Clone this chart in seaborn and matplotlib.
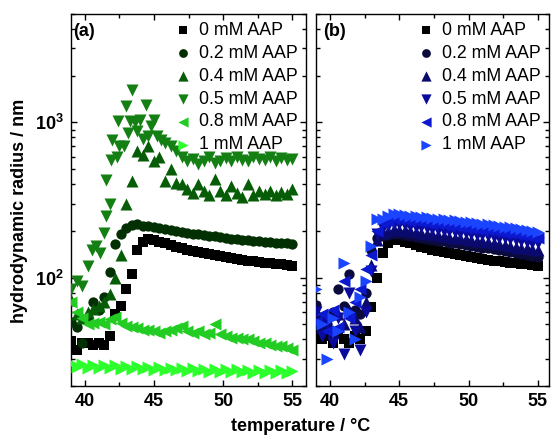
import matplotlib
matplotlib.use('Agg')
import matplotlib.pyplot as plt
import seaborn as sns
from matplotlib.ticker import LogLocator, MultipleLocator, FixedLocator, NullFormatter

# ---------------- data ----------------
labels = ['0 mM AAP', '0.2 mM AAP', '0.4 mM AAP', '0.5 mM AAP', '0.8 mM AAP', '1 mM AAP']

T = [39.0, 39.4, 39.8, 40.2, 40.6, 41.0, 41.4, 41.8, 42.2, 42.6, 43.0, 43.4, 43.8, 44.2,
     44.6, 45.0, 45.4, 45.8, 46.2, 46.6, 47.0, 47.4, 47.8, 48.2, 48.6, 49.0, 49.4, 49.8,
     50.2, 50.6, 51.0, 51.4, 51.8, 52.2, 52.6, 53.0, 53.4, 53.8, 54.2, 54.6, 55.0]

# panel (a)
a_0 = [39, 34, 38, 38, 37, 38, 37, 42, 58, 66, 85, 105, 150, 170, 176, 174, 170, 166, 162, 158,
       154, 151, 148, 146, 143, 141, 139, 137, 135, 133, 131, 130, 128, 127, 126, 125, 124, 123,
       122, 120, 119]
a_02 = [52, 48, 38, 55, 70, 62, 75, 108, 165, 192, 208, 218, 220, 216, 214, 211, 208, 205, 202,
        199, 196, 194, 192, 190, 188, 186, 184, 182, 180, 178, 177, 175, 174, 172, 171, 170, 169,
        168, 167, 166, 165]
a_04 = [72, 58, 55, 60, 63, 66, 70, 78, 100, 140, 300, 420, 650, 620, 700, 560, 600, 420, 500,
        410, 400, 370, 350, 400, 360, 340, 430, 360, 340, 390, 350, 330, 400, 340, 360, 345, 360,
        340, 355, 345, 370]
T_a05 = [39.0, 39.4, 39.8, 40.2, 40.5, 40.8, 41.1, 41.4, 41.5, 41.5, 41.8, 41.9, 42.0, 42.3,
         42.4, 42.5, 42.8, 43.0, 43.1, 43.3, 43.4, 43.6, 43.8, 44.0, 44.2, 44.4, 44.6, 44.8,
         45.0, 45.2, 45.5, 45.8, 46.2, 46.6, 47.0, 47.4, 47.8, 48.2, 48.6, 49.0, 49.4, 49.8,
         50.2, 50.6, 51.0, 51.4, 51.8, 52.2, 52.6, 53.0, 53.4, 53.8, 54.2, 54.6, 55.0]
a_05 = [84, 95, 88, 118, 150, 160, 145, 195, 250, 428, 300, 575, 773, 600, 1025, 700, 700, 1270,
        860, 1025, 1620, 1000, 880, 1040, 780, 1290, 820, 950, 1040, 820, 770, 740, 700, 650, 600,
        560, 580, 540, 560, 600, 550, 560, 590, 560, 600, 570, 560, 600, 580, 570, 600, 560, 590,
        570, 580]
a_08 = [70, 60, 55, 50, 51, 52, 50, 54, 56, 51, 49, 48, 47, 46, 46, 45, 44, 45, 46, 47, 49, 45,
        44, 45, 43, 44, 50, 43, 42, 41, 41, 40, 40, 39, 38, 38, 37, 36, 36, 35, 34]
a_1 = [28, 26.5, 27.8, 26.3, 27.5, 26.2, 27.3, 26, 27.2, 25.9, 27, 25.8, 26.8, 25.6, 26.6, 25.4,
       26.5, 25.3, 26.3, 25.2, 26.2, 25, 26, 24.9, 25.9, 24.8, 25.8, 24.7, 25.7, 24.6, 25.6, 24.5,
       25.5, 24.4, 25.4, 24.3, 25.3, 24.2, 25.2, 24.1, 25.0]

# panel (b)
b_0 = [45, 40, 42, 38, 44, 40, 38, 42, 40, 45, 65, 100, 145, 168, 175, 174, 170, 166, 162, 158,
       154, 151, 148, 146, 143, 141, 139, 137, 135, 133, 131, 130, 128, 127, 126, 125, 124, 123,
       122, 120, 119]
b_02 = [67, 55, 50, 60, 84, 66, 105, 62, 58, 80, 150, 181, 185, 188, 191, 190, 188, 185, 183, 180,
        178, 175, 173, 171, 168, 166, 164, 162, 160, 158, 156, 154, 152, 150, 148, 146, 144, 142,
        140, 138, 136]
b_04 = [55, 48, 52, 45, 58, 50, 62, 55, 48, 70, 120, 175, 195, 200, 205, 204, 202, 199, 197, 195,
        192, 190, 188, 185, 183, 181, 179, 177, 175, 173, 171, 169, 167, 165, 163, 160, 158, 156,
        154, 152, 150]
b_05 = [60, 42, 50, 38, 55, 32, 80, 45, 34, 60, 110, 190, 210, 215, 222, 220, 218, 216, 213, 211,
        208, 206, 204, 201, 199, 197, 195, 193, 191, 189, 187, 185, 183, 181, 179, 177, 175, 173,
        170, 168, 166]
b_08 = [52, 58, 45, 62, 48, 95, 55, 70, 84, 113, 140, 200, 225, 232, 238, 237, 235, 232, 230, 228,
        225, 223, 221, 218, 216, 214, 212, 210, 208, 206, 204, 202, 200, 198, 195, 193, 191, 188,
        186, 183, 181]
b_1 = [84, 50, 30, 55, 45, 125, 60, 40, 75, 95, 160, 237, 240, 250, 258, 255, 253, 251, 249, 247,
       245, 243, 240, 238, 236, 234, 231, 229, 227, 225, 222, 220, 218, 215, 213, 211, 208, 206,
       203, 200, 197]

x_ticks = [40, 45, 50, 55]
y_ticks = [100, 1000]
y_ticklabels = [r'$\mathbf{10^2}$', r'$\mathbf{10^3}$']

greens = ['#000000', '#023002', '#075c07', '#148014', '#22cc22', '#2cff2c']
blues = ['#000000', '#0a0a3c', '#0a0a6e', '#0a0a9c', '#0c18d0', '#1a44ff']
markers = ['s', 'o', '^', 'v', '<', '>']
sizes = [48, 55, 75, 75, 75, 75]

# ---------------- style ----------------
sns.set_style('ticks')
plt.rcParams['font.family'] = ['Liberation Sans', 'DejaVu Sans']
plt.rcParams['mathtext.fontset'] = 'custom'
plt.rcParams['mathtext.rm'] = 'Liberation Sans:bold'
plt.rcParams['mathtext.bf'] = 'Liberation Sans:bold'
plt.rcParams['mathtext.it'] = 'Liberation Sans:bold'
plt.rcParams['axes.edgecolor'] = 'black'
plt.rcParams['xtick.color'] = 'black'
plt.rcParams['ytick.color'] = 'black'
plt.rcParams['text.color'] = 'black'
plt.rcParams['axes.labelcolor'] = 'black'

W, H = 551, 436
fig = plt.figure(figsize=(W / 100, H / 100), dpi=100)


def axes_px(l, t, r, b):
    return fig.add_axes([l / W, 1 - b / H, (r - l) / W, (b - t) / H])


axA = axes_px(71, 14, 306, 386)
axB = axes_px(316, 14, 549, 386)

seriesA = [(T, a_0), (T, a_02), (T, a_04), (T_a05, a_05), (T, a_08), (T, a_1)]
seriesB = [(T, b_0), (T, b_02), (T, b_04), (T, b_05), (T, b_08), (T, b_1)]

for ax, series, cols in [(axA, seriesA, greens), (axB, seriesB, blues)]:
    for (tx, ry), lab, c, m, s in zip(series, labels, cols, markers, sizes):
        sns.scatterplot(x=tx, y=ry, ax=ax, marker=m, color=c, s=s, linewidth=0,
                        label=lab, zorder=3)
    ax.set_yscale('log')
    ax.set_ylim(20, 5000)
    ax.yaxis.set_major_locator(FixedLocator(y_ticks))
    ax.yaxis.set_minor_locator(LogLocator(base=10, subs=range(2, 10), numticks=20))
    ax.yaxis.set_minor_formatter(NullFormatter())
    ax.xaxis.set_minor_locator(MultipleLocator(2.5))
    ax.set_xticks(x_ticks)
    ax.set_xticklabels([str(v) for v in x_ticks], fontweight='bold', fontsize=13)
    ax.tick_params(which='both', direction='in', top=True, right=True, width=1.0)
    ax.tick_params(which='major', length=4.5, pad=5)
    ax.tick_params(which='minor', length=3)
    for sp in ax.spines.values():
        sp.set_linewidth(1.0)
        sp.set_color('black')
    ax.set_xlabel('')
    ax.set_ylabel('')
    leg = ax.legend(loc='upper right', frameon=False, fontsize=12.8, labelspacing=0.33,
                    handlelength=1.0, handletextpad=0.4, borderpad=0.15, borderaxespad=0.3,
                    markerscale=0.85)
    for t in leg.get_texts():
        t.set_color('black')

axA.set_xlim(39, 56)
axB.set_xlim(39, 55.8)
axA.set_yticklabels(y_ticklabels, fontsize=13)
axB.tick_params(labelleft=False)

axA.text(0.007, 0.954, '(a)', transform=axA.transAxes, fontsize=13, fontweight='bold',
         ha='left', va='center')
axB.text(0.029, 0.954, '(b)', transform=axB.transAxes, fontsize=13, fontweight='bold',
         ha='left', va='center')

fig.text(20 / W, 1 - 211 / H, 'hydrodynamic radius / nm', rotation=90, ha='center',
         va='center', fontsize=13, fontweight='bold')
fig.text(301 / W, 1 - 426 / H, 'temperature / °C', ha='center', va='center',
         fontsize=13, fontweight='bold')

fig.savefig('out.png', dpi=100)
